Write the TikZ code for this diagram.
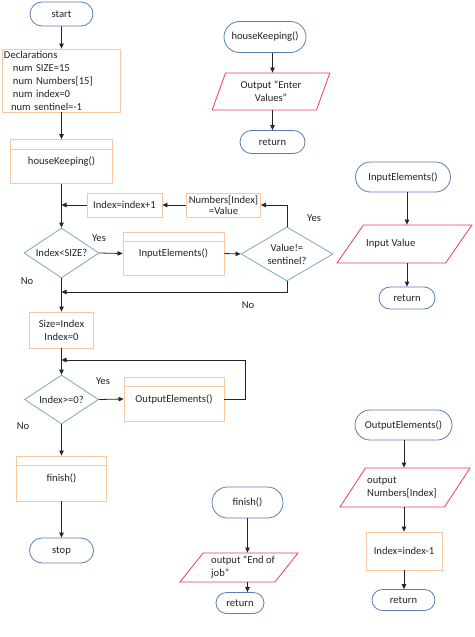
\documentclass[tikz,border=0pt]{standalone}
\usepackage{fontspec}
\setmainfont{Carlito}
\usetikzlibrary{arrows.meta,shapes.geometric,shapes.misc}
\definecolor{termc}{RGB}{90,125,185}
\definecolor{procc}{RGB}{248,200,165}
\definecolor{decc}{RGB}{120,170,190}
\definecolor{ioc}{RGB}{240,60,80}
\definecolor{txt}{RGB}{35,35,35}
\begin{document}
\begin{tikzpicture}[x=1pt,y=-1pt,font=\fontsize{10.6}{13}\selectfont,
  term/.style={rounded rectangle,draw=termc,line width=0.8pt,fill=white,text=txt,inner sep=0pt},
  proc/.style={rectangle,draw=procc,line width=0.8pt,text=txt,inner sep=0pt,align=center},
  dec/.style={diamond,aspect=1.5,draw=decc,line width=0.8pt,text=txt,inner sep=0pt,align=center},
  io/.style={trapezium,trapezium left angle=68,trapezium right angle=112,trapezium stretches=true,draw=ioc,line width=0.8pt,inner sep=1pt},
  iotext/.style={text=txt,align=left,inner sep=0pt,anchor=west},
  arr/.style={-{Triangle[length=5pt,width=4.5pt]},line width=0.8pt,draw=black!85},
  lbl/.style={text=txt,inner sep=0pt}]
\useasboundingbox (0,0) rectangle (474,637);
% main column
\node[term,minimum width=63pt,minimum height=24pt] (start) at (61.5,14) {start};
\node[proc,minimum width=118pt,minimum height=63pt,text width=114pt,align=left] (decl) at (61,80.5)
  {Declarations\\\hspace*{9pt}num SIZE=15\\\hspace*{9pt}num Numbers[15]\\\hspace*{9pt}num index=0\\\hspace*{7pt}num sentinel=-1};
\node[proc,minimum width=102pt,minimum height=44pt] (hk) at (61.5,161.5) {houseKeeping()};
\draw[procc,line width=0.8pt] ([yshift=-10pt]hk.north west) -- ([yshift=-10pt]hk.north east);
\node[dec,minimum width=75pt,minimum height=50pt] (d1) at (61.5,253) {Index<SIZE?};
\node[proc,minimum width=75pt,minimum height=24pt] (inc) at (124.5,205) {Index=index+1};
\node[proc,minimum width=74pt,minimum height=24pt,font=\fontsize{10.6}{11.5}\selectfont] (nb) at (223.5,205) {Numbers[Index]\\=Value};
\node[proc,minimum width=101pt,minimum height=43pt] (ie) at (173.5,253.5) {InputElements()};
\draw[procc,line width=0.8pt] ([yshift=-10pt]ie.north west) -- ([yshift=-10pt]ie.north east);
\node[dec,minimum width=92pt,minimum height=54pt] (d2) at (287,254) {Value!=\\sentinel?};
\node[proc,minimum width=64pt,minimum height=36pt] (size) at (61.5,330) {Size=Index\\Index=0};
\node[dec,minimum width=74pt,minimum height=49pt] (d3) at (61.5,399.5) {Index>=0?};
\node[proc,minimum width=100pt,minimum height=44pt] (oe) at (174,399) {OutputElements()};
\draw[procc,line width=0.8pt] ([yshift=-10pt]oe.north west) -- ([yshift=-10pt]oe.north east);
\node[proc,minimum width=90pt,minimum height=45pt] (fin) at (61.5,478.5) {finish()};
\draw[procc,line width=0.8pt] ([yshift=-10pt]fin.north west) -- ([yshift=-10pt]fin.north east);
\node[term,minimum width=64pt,minimum height=25pt] (stop) at (61.5,550.5) {stop};
\coordinate (noj) at (61.5,292);
\coordinate (lpj) at (61.5,360);
% main connectors
\draw[arr] (start) -- (start |- decl.north);
\draw[arr] (decl.south -| hk) -- (hk.north);
\draw[arr] (hk) -- (d1.north);
\draw[arr] (nb.west) -- (inc.east);
\draw[arr] (inc.west) -- (inc.west -| hk);
\draw[arr] (d1.east) -- (ie.west);
\draw[arr] (ie.east) -- (d2.west);
\draw[arr] (d2.north) |- (nb.east);
\draw[arr] (d2.south) |- (noj);
\draw[arr] (d1.south) -- (size.north);
\draw[arr] (size.south) -- (d3.north);
\draw[arr] (d3.east) -- (oe.west);
\draw[arr] (oe.east) -- ++(21,0) |- (lpj);
\draw[arr] (d3.south) -- (fin.north);
\draw[arr] (fin.south) -- (stop.north);
\node[lbl] (y1) at (99,238) {Yes};
\node[lbl] (n1) at (27,281) {No};
\node[lbl] (y2) at (314,218) {Yes};
\node[lbl] (n2) at (248,305) {No};
\node[lbl] (y3) at (103,381) {Yes};
\node[lbl] (n3) at (23,426) {No};
% houseKeeping sub
\node[term,minimum width=82pt,minimum height=31pt] (hkT) at (265,37) {houseKeeping()};
\node[io,minimum width=118pt,minimum height=37pt,align=center,text=txt] (hkP) at (271,91.5) {Output “Enter\\Values”};
\node[term,minimum width=65pt,minimum height=23pt] (hkR) at (272.5,142) {return};
\draw[arr] (hkT.south -| hkR) -- (hkP.north -| hkR);
\draw[arr] (hkP.south -| hkR) -- (hkR.north);
% InputElements sub
\node[term,minimum width=95pt,minimum height=30pt] (ieT) at (403,177) {InputElements()};
\node[io,minimum width=135pt,minimum height=38pt] (ieP) at (404.5,244) {\phantom{M}};
\node[iotext] (ieX) at (366,244) {Input Value};
\node[term,minimum width=56pt,minimum height=22pt] (ieR) at (407,298) {return};
\draw[arr] (ieT.south -| ieR) -- (ieP.north -| ieR);
\draw[arr] (ieP.south -| ieR) -- (ieR.north);
% OutputElements sub
\node[term,minimum width=97pt,minimum height=30pt] (oeT) at (403.5,425) {OutputElements()};
\node[io,minimum width=130pt,minimum height=39pt] (oeP) at (405,487.5) {\phantom{M}};
\node[iotext] (oeX) at (367,487.5) {output\\Numbers[Index]};
\node[proc,minimum width=76pt,minimum height=38pt] (dec1) at (404,551) {Index=index-1};
\node[term,minimum width=63pt,minimum height=21pt] (oeR) at (403.5,600) {return};
\draw[arr] (oeT.south -| dec1) -- (oeP.north -| dec1);
\draw[arr] (oeP.south -| dec1) -- (dec1.north);
\draw[arr] (dec1.south) -- (dec1.south |- oeR.north);
% finish sub
\node[term,minimum width=71pt,minimum height=31pt] (finT) at (247.5,502.5) {finish()};
\node[io,minimum width=118pt,minimum height=29pt] (finP) at (239,567.5) {\phantom{M}};
\node[iotext] (finX) at (211,567.5) {output “End of\\job”};
\node[term,minimum width=48pt,minimum height=21pt] (finR) at (240,603) {return};
\draw[arr] (finT.south) -- (finT.south |- finP.north);
\draw[arr] (finT.south |- finP.south) -- (finT.south |- finR.north);
\end{tikzpicture}
\end{document}
